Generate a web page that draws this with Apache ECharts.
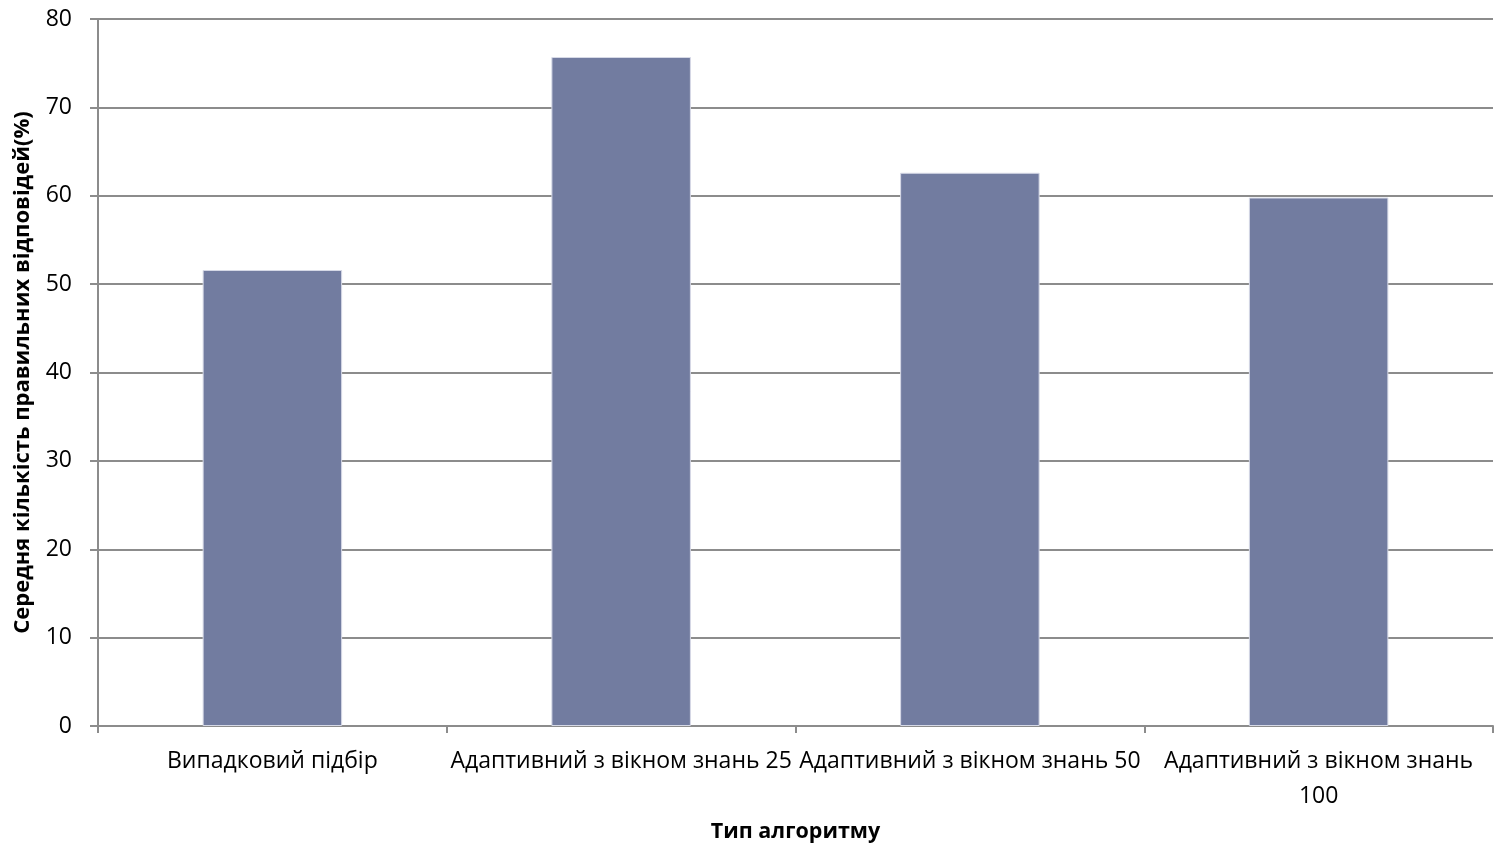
<!DOCTYPE html>
<html>
<head>
<meta charset="utf-8">
<script src="https://cdn.jsdelivr.net/npm/echarts@6/dist/echarts.min.js"></script>
<style>
  html, body { margin: 0; padding: 0; background: #ffffff; }
  #chart { width: 1495px; height: 846px; }
</style>
</head>
<body>
<div id="chart"></div>
<script>
// Algorithm types and the average share of correct answers (%)
const categories = [
  'Випадковий підбір',
  'Адаптивний з вікном знань 25',
  'Адаптивний з вікном знань 50',
  'Адаптивний з вікном знань 100'
];
const correctShare = [51.6, 75.7, 62.6, 59.8];
const yTicks = { min: 0, max: 80, interval: 10 };

const FONT = 'Open Sans, Noto Sans, sans-serif';
const AXIS_GRAY = '#8c8c8c';

// Long category names move their last word onto a second line
function wrapLabel(name) {
  if (name.length <= 28) return name;
  const cut = name.lastIndexOf(' ');
  return name.slice(0, cut) + '\n' + name.slice(cut + 1);
}

const chart = echarts.init(document.getElementById('chart'), null, { renderer: 'canvas' });

chart.setOption({
  backgroundColor: '#ffffff',
  animation: false,
  textStyle: { fontFamily: FONT },
  grid: {
    left: 98, right: 2, top: 19, bottom: 120,
    containLabel: false,
    outerBoundsMode: 'none'
  },
  xAxis: {
    type: 'category',
    data: categories,
    name: 'Тип алгоритму',
    nameLocation: 'middle',
    nameGap: 95,
    nameTextStyle: { fontFamily: FONT, fontSize: 21.5, fontWeight: 'bold', color: '#000' },
    axisLine: { lineStyle: { color: AXIS_GRAY, width: 2 } },
    axisTick: { show: true, length: 7, alignWithLabel: false, lineStyle: { color: AXIS_GRAY, width: 2 } },
    axisLabel: {
      interval: 0,
      hideOverlap: false,
      margin: 18,
      fontFamily: FONT,
      fontSize: 23,
      color: '#000',
      lineHeight: 35,
      formatter: wrapLabel
    }
  },
  yAxis: {
    type: 'value',
    min: yTicks.min,
    max: yTicks.max,
    interval: yTicks.interval,
    name: 'Середня кількість правильних відповідей(%)',
    nameLocation: 'middle',
    nameGap: 64,
    nameTextStyle: { fontFamily: FONT, fontSize: 22, fontWeight: 'bold', color: '#000' },
    axisLine: { show: true, lineStyle: { color: AXIS_GRAY, width: 2 } },
    axisTick: { show: true, length: 8, lineStyle: { color: AXIS_GRAY, width: 2 } },
    axisLabel: { margin: 26, fontFamily: FONT, fontSize: 23, color: '#000' },
    splitLine: { show: true, lineStyle: { color: AXIS_GRAY, width: 2 } }
  },
  series: [{
    type: 'bar',
    data: correctShare,
    barWidth: '40%',
    itemStyle: { color: '#727ca0', borderColor: '#d6d9e6', borderWidth: 1 }
  }]
});
</script>
</body>
</html>
